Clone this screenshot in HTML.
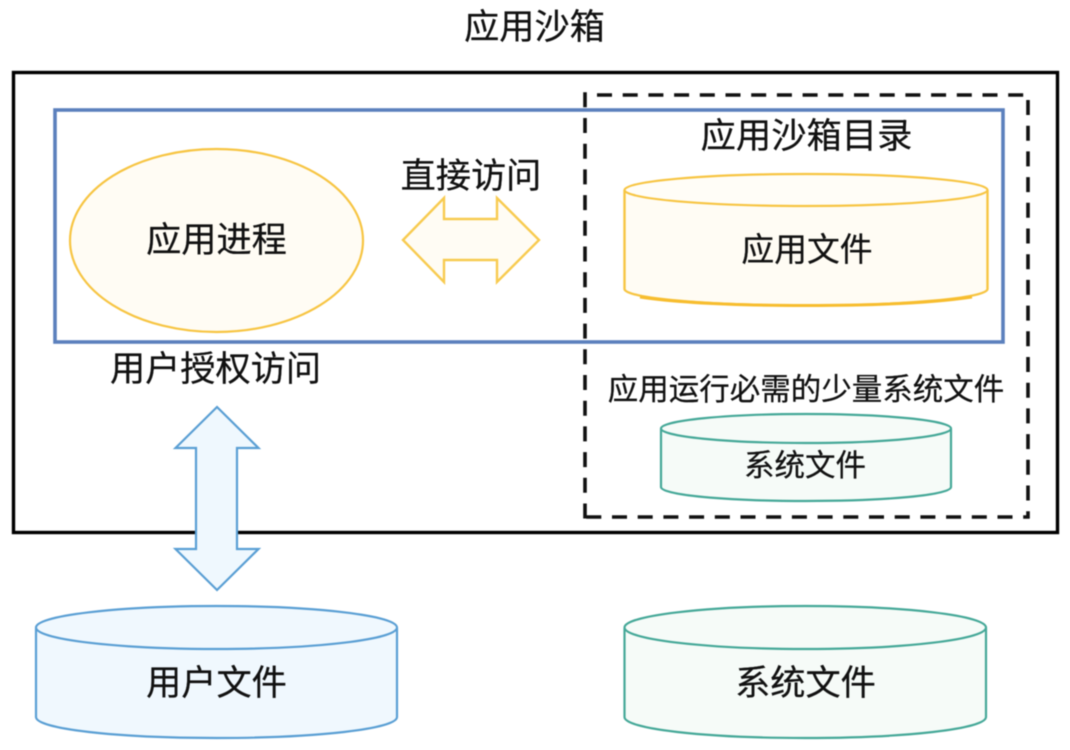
<!DOCTYPE html>
<html lang="zh">
<head>
<meta charset="utf-8">
<title>应用沙箱</title>
<style>
html,body{margin:0;padding:0;background:#fff;width:1070px;height:750px;overflow:hidden}
svg{display:block}
text{font-family:"Liberation Sans","Noto Sans CJK SC",sans-serif;fill:#111;stroke:#111;stroke-width:.25px;text-anchor:middle}
</style>
</head>
<body>
<svg width="1070" height="750" viewBox="0 0 1070 750" xmlns="http://www.w3.org/2000/svg">
<rect width="1070" height="750" fill="#fff"/>
<g style="filter:blur(0.5px)">
<!-- outer -->
<rect x="13.500" y="72.500" width="1044" height="460" fill="#fff" stroke="#000" stroke-width="3.400"/>
<!-- dashed -->
<g fill="none" stroke="#111" stroke-width="3.600" stroke-dasharray="15 10.700">
<path d="M597 95 H1026"/>
<path d="M1028 100 V518.500"/>
<path d="M586.300 517 H1029.500"/>
<path d="M585 92.300 V518.800"/>
</g>
<!-- blue -->
<rect x="55" y="110" width="948" height="232" fill="none" stroke="#5b80bd" stroke-width="3.600"/>
<!-- ellipse -->
<ellipse cx="216.500" cy="240.500" rx="146.500" ry="91.500" fill="#fffcf4" stroke="#f7c543" stroke-width="2.200"/>
<!-- horizontal arrow -->
<polygon points="403,240 444,198 444,219 497,219 497,198 539,240 497,282 497,260 444,260 444,282" fill="#fffcf4" stroke="#f8cb50" stroke-width="2.400"/>
<!-- app file cylinder -->
<path d="M624.500 190 V289 C624.500 298 706 305.500 806 305.500 C906 305.500 987.500 298 987.500 289 V190" fill="#fffcf4" stroke="#f7c543" stroke-width="2.400"/>
<path d="M640 297 C680 303 740 305.500 806 305.500 C872 305.500 932 303 972 297" fill="none" stroke="#f7bd2e" stroke-width="3"/>
<ellipse cx="806" cy="190" rx="181.500" ry="16" fill="#fffdf7" stroke="#f7c543" stroke-width="2.200"/>
<!-- vertical arrow -->
<polygon points="217,407 258.500,448 237,448 237,549 258.500,549 217,590 175.500,549 196,549 196,448 175.500,448" fill="#eff8fe" stroke="#5a9fd4" stroke-width="2.200"/>
<!-- small system file -->
<path d="M661 429 V487 C661 495 726 501 806 501 C886 501 951 495 951 487 V429" fill="#f6fbf8" stroke="#45a898" stroke-width="2.200"/>
<ellipse cx="806" cy="428.500" rx="145" ry="14.500" fill="#f6fbf8" stroke="#45a898" stroke-width="2.200"/>
<!-- user files -->
<path d="M36 628 V717 C36 729 117 738 216.500 738 C316 738 397 729 397 717 V628" fill="#f0f8fe" stroke="#5a9fd4" stroke-width="2.200"/>
<ellipse cx="216.500" cy="627.500" rx="180.500" ry="21.500" fill="#f0f8fe" stroke="#5a9fd4" stroke-width="2.200"/>
<!-- system files -->
<path d="M624.500 628 V717 C624.500 729 705 738 805 738 C905 738 986 729 986 717 V628" fill="#f6fbf8" stroke="#45a898" stroke-width="2.200"/>
<ellipse cx="805.250" cy="627.500" rx="180.750" ry="21.500" fill="#f6fbf8" stroke="#45a898" stroke-width="2.200"/>
<!-- labels -->
<text x="534.500" y="39" font-size="35.200">应用沙箱</text>
<text x="806.500" y="148" font-size="35.300">应用沙箱目录</text>
<text x="471" y="188" font-size="35.200">直接访问</text>
<text x="216.500" y="252" font-size="35.200">应用进程</text>
<text x="807" y="261" font-size="32.800">应用文件</text>
<text x="215.500" y="381" font-size="35.200">用户授权访问</text>
<text x="806" y="400" font-size="30.500">应用运行必需的少量系统文件</text>
<text x="805" y="476" font-size="30.500">系统文件</text>
<text x="216.500" y="695" font-size="35.200">用户文件</text>
<text x="805.500" y="695" font-size="35.200">系统文件</text>
</g>
</svg>
</body>
</html>
